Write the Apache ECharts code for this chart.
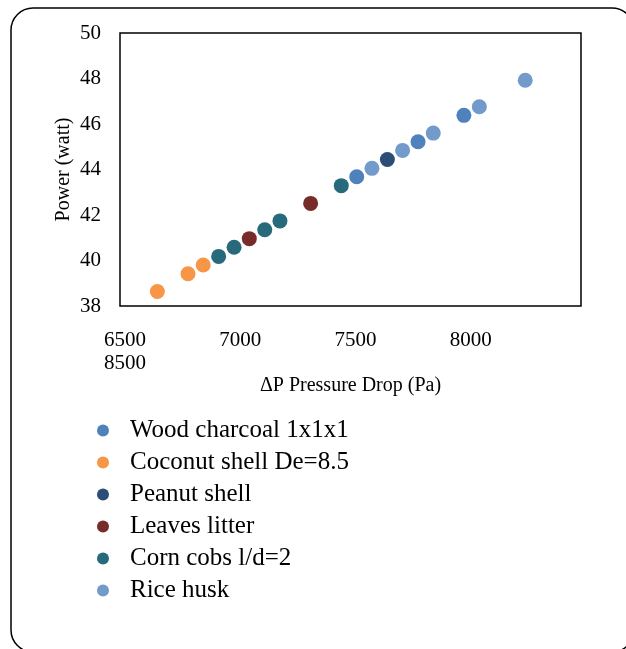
<!DOCTYPE html>
<html>
<head>
<meta charset="utf-8">
<script src="https://cdn.jsdelivr.net/npm/echarts@6/dist/echarts.min.js"></script>
<style>html,body{margin:0;padding:0;background:#fff;}#c{width:626px;height:649px;}</style>
</head>
<body>
<div id="c"></div>
<script>
var seriesNames = ['Wood charcoal 1x1x1','Coconut shell De=8.5','Peanut shell','Leaves litter','Corn cobs l/d=2','Rice husk'];
var seriesColors = ['#4F81BD','#F79646','#2C4D75','#772C2A','#276A7C','#729ACA'];
var woodCharcoal = [[7527,43.68],[7793,45.22],[7992,46.38]];
var coconutShell = [[6662,38.64],[6795,39.42],[6861,39.80]];
var peanutShell = [[7660,44.44]];
var leavesLitter = [[7061,40.96],[7327,42.51]];
var cornCobs = [[6928,40.18],[6995,40.58],[7128,41.35],[7194,41.74],[7460,43.29]];
var riceHusk = [[7593,44.05],[7726,44.84],[7859,45.60],[8059,46.76],[8258,47.92]];
var allData = [woodCharcoal,coconutShell,peanutShell,leavesLitter,cornCobs,riceHusk];
var xTicks = [6500,7000,7500,8000,8500];
var yTicks = [38,40,42,44,46,48,50];

var chart = echarts.init(document.getElementById('c'));
var font = 'Liberation Serif';
chart.setOption({
  animation:false,
  backgroundColor:'#fff',
  graphic:[{type:'rect',shape:{x:11,y:8,width:623,height:644,r:22},style:{fill:'none',stroke:'#000',lineWidth:1.5},silent:true,z:-1}],
  grid:{left:120,right:45,top:33,bottom:343,show:true,borderColor:'#000',borderWidth:1.5,backgroundColor:'transparent'},
  xAxis:{type:'value',min:xTicks[0],max:xTicks[xTicks.length-1],interval:500,
    name:'ΔP Pressure Drop (Pa)',nameLocation:'middle',nameGap:66,
    nameTextStyle:{fontFamily:font,fontSize:20,color:'#000'},
    axisLine:{show:false},axisTick:{show:false},splitLine:{show:false},
    axisLabel:{fontFamily:font,fontSize:21,color:'#000',margin:23,lineHeight:23,padding:[0,0,0,10],
      formatter:function(v){ if(v===xTicks[0]) return xTicks[0]+'\n'+xTicks[xTicks.length-1]; if(v===xTicks[xTicks.length-1]) return ''; return String(v);}}},
  yAxis:{type:'value',min:yTicks[0],max:yTicks[yTicks.length-1],interval:2,
    name:'Power (watt)',nameLocation:'middle',nameGap:46,nameMoveOverlap:false,
    nameTextStyle:{fontFamily:font,fontSize:20,color:'#000'},
    axisLine:{show:false},axisTick:{show:false},splitLine:{show:false},
    axisLabel:{fontFamily:font,fontSize:21,color:'#000',margin:19}},
  legend:{orient:'vertical',left:92,top:413,itemWidth:12,itemHeight:12,itemGap:7,icon:'circle',
    textStyle:{fontFamily:font,fontSize:25,color:'#000',lineHeight:25,padding:[0,0,0,16]},
    data:seriesNames},
  series:seriesNames.map(function(n,i){return {name:n,type:'scatter',symbolSize:15,data:allData[i],itemStyle:{color:seriesColors[i],opacity:1}};})
});
</script>
</body>
</html>
